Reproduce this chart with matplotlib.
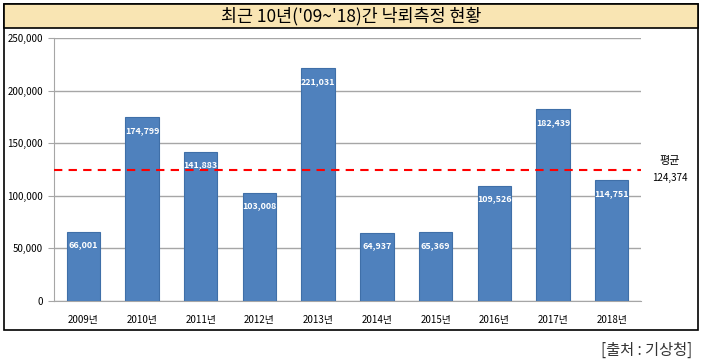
import matplotlib
matplotlib.use("Agg")
import matplotlib.pyplot as plt
from matplotlib.patches import Rectangle

plt.rcParams['font.family'] = ['Noto Sans CJK KR', 'DejaVu Sans']

years = ['2009년', '2010년', '2011년', '2012년', '2013년', '2014년', '2015년', '2016년', '2017년', '2018년']
values = [66001, 174799, 141883, 103008, 221031, 64937, 65369, 109526, 182439, 114751]
average = 124374
title = "최근 10년('09~'18)간 낙뢰측정 현황"
source = "[출처 : 기상청]"

W, H = 703, 363
fig = plt.figure(figsize=(W / 100, H / 100), dpi=100)

def fx(px):
    return px / W

def fy(py):
    return 1 - py / H

# outer frame and title band
fig.patches.append(Rectangle((fx(4), fy(330)), fx(698) - fx(4), fy(4) - fy(330),
                             transform=fig.transFigure, facecolor='white',
                             edgecolor='black', linewidth=1.2, zorder=0))
fig.patches.append(Rectangle((fx(4), fy(28)), fx(698) - fx(4), fy(4) - fy(28),
                             transform=fig.transFigure, facecolor='#F9E5B3',
                             edgecolor='black', linewidth=1.2, zorder=1))
fig.text(fx(351), fy(16), title, ha='center', va='center', fontsize=12.5, zorder=3)

ax = fig.add_axes([fx(54), fy(301), fx(641) - fx(54), fy(38) - fy(301)])
ax.set_zorder(2)
x = list(range(len(years)))
ax.bar(x, values, width=0.57, color='#4F81BD', edgecolor='#3F6FA8',
       linewidth=0.8, zorder=3)
for xi, v in zip(x, values):
    ax.text(xi, v - 12500, f"{v:,}", ha='center', va='center', color='white',
            fontsize=6.4, fontweight='bold', zorder=4)

ax.axhline(average, color='#FF0000', linestyle=(0, (4, 3)), linewidth=1.5, zorder=5)

ax.set_xlim(-0.5, len(years) - 0.5)
ax.set_ylim(0, 250000)
ax.set_yticks(range(0, 250001, 50000))
ax.set_yticklabels([f"{t:,}" for t in range(0, 250001, 50000)], fontsize=7)
ax.set_xticks(x)
ax.set_xticklabels(years, fontsize=7)
ax.yaxis.grid(True, color='#A6A6A6', linewidth=1, zorder=0)
ax.set_axisbelow(True)
for s in ['top', 'right']:
    ax.spines[s].set_visible(False)
ax.spines['left'].set_color('#A6A6A6')
ax.spines['bottom'].set_color('#A6A6A6')
ax.tick_params(axis='y', length=4, color='#A6A6A6', pad=4)
ax.tick_params(axis='x', length=0, pad=10)

fig.text(fx(670), fy(161), "평균", ha='center', va='center', fontsize=8)
fig.text(fx(670), fy(178), f"{average:,}", ha='center', va='center', fontsize=7)

fig.text(fx(692), fy(350), source, ha='right', va='center', fontsize=11, color='#333333')

fig.savefig('out.png', dpi=100)
